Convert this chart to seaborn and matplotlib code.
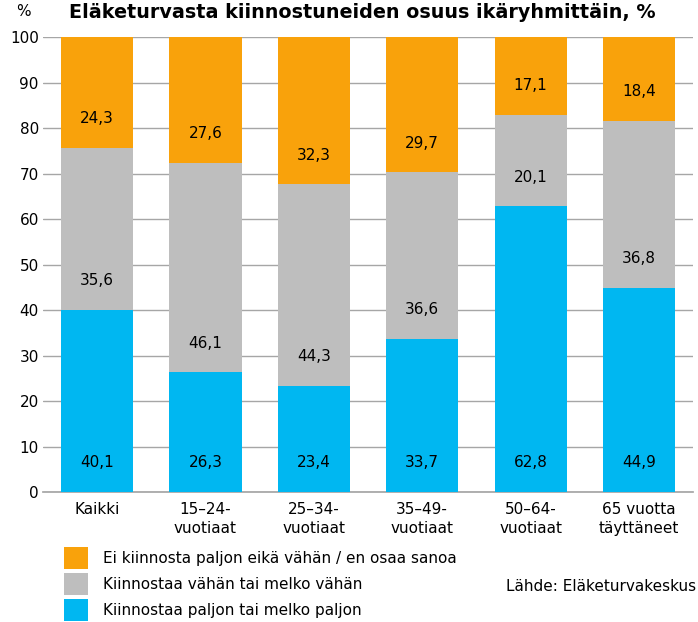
import numpy as np
import pandas as pd
import matplotlib
matplotlib.use("Agg")
import matplotlib.pyplot as plt
import seaborn as sns
from matplotlib.patches import Patch

categories = ["Kaikki", "15–24-\nvuotiaat", "25–34-\nvuotiaat", "35–49-\nvuotiaat",
              "50–64-\nvuotiaat", "65 vuotta\ntäyttäneet"]
paljon = [40.1, 26.3, 23.4, 33.7, 62.8, 44.9]
vahan = [35.6, 46.1, 44.3, 36.6, 20.1, 36.8]
ei_osaa = [24.3, 27.6, 32.3, 29.7, 17.1, 18.4]
series_names = ["Ei kiinnosta paljon eikä vähän / en osaa sanoa",
                "Kiinnostaa vähän tai melko vähän",
                "Kiinnostaa paljon tai melko paljon"]

c_orange = "#F9A20B"
c_gray = "#BEBEBE"
c_blue = "#00B7F1"

sns.set_theme(style="white")
plt.rcParams["font.family"] = ["DejaVu Sans"]
plt.rcParams["text.color"] = "black"
plt.rcParams["xtick.color"] = "black"
plt.rcParams["ytick.color"] = "black"

df = pd.DataFrame({"cat": categories, "paljon": paljon, "vahan": vahan, "ei": ei_osaa})
df["lvl1"] = df["paljon"]
df["lvl2"] = df["paljon"] + df["vahan"]
df["lvl3"] = df["lvl2"] + df["ei"]

fig = plt.figure(figsize=(6.98, 6.22), dpi=100)
ax = fig.add_axes([0.0616, 0.209, 0.9314, 0.731])

# stacked by layering cumulative totals
for col, color in [("lvl3", c_orange), ("lvl2", c_gray), ("lvl1", c_blue)]:
    sns.barplot(data=df, x="cat", y=col, color=color, width=0.665,
                saturation=1, linewidth=0, ax=ax, zorder=3)

# value labels just above segment base
for i, row in df.iterrows():
    for base, val in [(0, row["paljon"]), (row["lvl1"], row["vahan"]), (row["lvl2"], row["ei"])]:
        ax.text(i, base + 6.4, f"{val:.1f}".replace(".", ","), ha="center", va="center",
                fontsize=11, color="black", zorder=4)

ax.set_ylim(0, 100)
ax.set_xlim(-0.5, 5.5)
ax.set_yticks(range(0, 101, 10))
ax.yaxis.grid(True, color="#A6A6A6", linewidth=1, zorder=0)
ax.set_axisbelow(True)
ax.set_xlabel("")
ax.set_ylabel("")
for s in ["top", "right", "left"]:
    ax.spines[s].set_visible(False)
ax.spines["bottom"].set_color("#A6A6A6")
ax.tick_params(axis="y", length=0, labelsize=11, pad=3)
ax.tick_params(axis="x", which="major", length=0, labelsize=11, pad=7)
for lbl in ax.get_xticklabels():
    lbl.set_linespacing(1.35)
ax.set_xticks(np.arange(-0.5, 6, 1), minor=True)
ax.tick_params(axis="x", which="minor", length=4, color="#A6A6A6")

fig.text(0.023, 0.981, "%", fontsize=11, ha="left", va="center")
fig.text(0.099, 0.980, "Eläketurvasta kiinnostuneiden osuus ikäryhmittäin, %",
         fontsize=13.8, fontweight="bold", ha="left", va="center")

handles = [Patch(facecolor=c, edgecolor="none") for c in [c_orange, c_gray, c_blue]]
fig.legend(handles, series_names, loc="upper left", bbox_to_anchor=(0.0917, 0.1206),
           frameon=False, fontsize=11, handlelength=1.57, handleheight=1.84,
           labelspacing=0.26, handletextpad=0.98, borderaxespad=0, borderpad=0)
fig.text(0.998, 0.0563, "Lähde: Eläketurvakeskus", fontsize=11, ha="right", va="center")

fig.savefig("out.png", dpi=100)
